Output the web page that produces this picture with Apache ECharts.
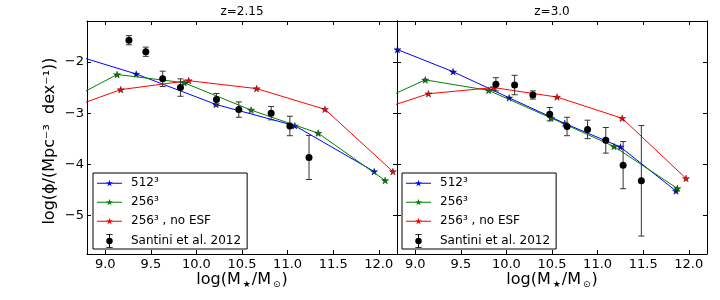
<!DOCTYPE html>
<html><head><meta charset="utf-8">
<script src="https://cdn.jsdelivr.net/npm/echarts@6/dist/echarts.min.js"></script>
<style>html,body{margin:0;padding:0;background:#fff}#c{width:720px;height:300px}</style>
</head><body><div id="c"></div>
<script>
// ---- data ----
const panelTitles = ['z=2.15', 'z=3.0'];
const seriesNames = ['512³', '256³', '256³ , no ESF', 'Santini et al. 2012'];
const xTicks = [9.0, 9.5, 10.0, 10.5, 11.0, 11.5, 12.0];
const yTicks = [-5, -4, -3, -2];

// z = 2.15
const a512x = [8.47, 9.34, 10.215, 11.08, 11.95];
const a512y = [-1.76, -2.235, -2.83, -3.245, -4.14];
const a256x = [8.40, 9.13, 9.865, 10.60, 11.335, 12.07];
const a256y = [-2.93, -2.245, -2.405, -2.94, -3.39, -4.315];
const aNoEsfx = [8.42, 9.17, 9.915, 10.66, 11.41, 12.155];
const aNoEsfy = [-3.02, -2.54, -2.365, -2.52, -2.925, -4.14];
const aSantX = [9.26, 9.445, 9.63, 9.825, 10.22, 10.465, 10.82, 11.025, 11.235];
const aSantY = [-1.575, -1.80, -2.33, -2.50, -2.735, -2.93, -3.00, -3.25, -3.865];
const aSantE = [0.09, 0.09, 0.15, 0.17, 0.12, 0.15, 0.13, 0.19, 0.43];

// z = 3.0
const b512x = [8.805, 9.415, 10.03, 10.64, 11.25, 11.86];
const b512y = [-1.758, -2.19, -2.70, -3.20, -3.66, -4.52];
const b256x = [8.42, 9.11, 9.805, 10.49, 11.18, 11.875];
const b256y = [-2.91, -2.35, -2.555, -3.095, -3.65, -4.47];
const bNoEsfx = [8.43, 9.145, 9.86, 10.555, 11.27, 11.97];
const bNoEsfy = [-3.04, -2.62, -2.50, -2.685, -3.10, -4.275];
const bSantX = [9.885, 10.09, 10.29, 10.475, 10.665, 10.89, 11.09, 11.28, 11.48];
const bSantY = [-2.437, -2.45, -2.645, -3.02, -3.26, -3.317, -3.53, -4.015, -4.32];
const bSantE = [0.13, 0.19, 0.08, 0.13, 0.18, 0.18, 0.25, 0.46, 1.08];

// ---- chart ----
const FONT = 'DejaVu Sans';
const colors = ['#0000ff', '#008000', '#ff0000'];
const STAR = 'path://M50,0 L61.23,34.55 L97.55,34.55 L68.16,55.9 L79.39,90.45 L50,69.1 L20.61,90.45 L31.84,55.9 L2.45,34.55 L38.77,34.55 Z';
const starIcon = 'path://M0,6.5 L25,6.5 L25,7.5 L0,7.5 Z M12.5,3.5 L13.29,5.92 L15.83,5.92 L13.77,7.41 L14.56,9.83 L12.5,8.34 L10.44,9.83 L11.23,7.41 L9.17,5.92 L11.71,5.92 Z';
const errIcon = 'path://M0,0 L6,0 L6,0.8 L3.5,0.8 L3.5,12.2 L6,12.2 L6,13 L0,13 L0,12.2 L2.5,12.2 L2.5,0.8 L0,0.8 Z M0,6.5 A3,3 0 1,1 6,6.5 A3,3 0 1,1 0,6.5 Z';

const panels = [
  {lines: [[a512x, a512y], [a256x, a256y], [aNoEsfx, aNoEsfy]], sant: [aSantX, aSantY, aSantE]},
  {lines: [[b512x, b512y], [b256x, b256y], [bNoEsfx, bNoEsfy]], sant: [bSantX, bSantY, bSantE]}
];
const zip = (xs, ys) => xs.map((x, i) => [x, ys[i]]);

const gridLeft = [87, 397], gridW = 310, gridTop = 21, gridH = 233;
const XMIN = 8.8, XMAX = 12.2, YMIN = -5.75, YMAX = -1.2;

function axisBase(ticks, showLabel, fmt) {
  return {
    type: 'value',
    axisLine: {show: true, onZero: false, lineStyle: {color: '#000', width: 1}},
    axisTick: {show: true, inside: true, length: 4, customValues: ticks, lineStyle: {color: '#000', width: 1}},
    axisLabel: {show: showLabel, customValues: ticks, formatter: fmt, color: '#000', fontSize: 13, fontFamily: FONT},
    splitLine: {show: false}
  };
}
const xfmt = v => v.toFixed(1);
const yfmt = v => String(v).replace('-', '\u2212');

const grid = [], xAxis = [], yAxis = [], series = [], legend = [], graphic = [];
panels.forEach((p, i) => {
  grid.push({left: gridLeft[i], top: gridTop, width: gridW, height: gridH, containLabel: false});
  xAxis.push(Object.assign(axisBase(xTicks, true, xfmt), {gridIndex: i, position: 'bottom', min: XMIN, max: XMAX}));
  xAxis[xAxis.length - 1].axisLabel.margin = 4;
  xAxis.push(Object.assign(axisBase(xTicks, false, xfmt), {gridIndex: i, position: 'top', min: XMIN, max: XMAX}));
  yAxis.push(Object.assign(axisBase(yTicks, i === 0, yfmt), {gridIndex: i, position: 'left', min: YMIN, max: YMAX}));
  yAxis[yAxis.length - 1].axisLabel.margin = 3;
  yAxis.push(Object.assign(axisBase(yTicks, false, yfmt), {gridIndex: i, position: 'right', min: YMIN, max: YMAX}));
  const xi = i * 2, yi = i * 2;
  p.lines.forEach((ln, k) => {
    series.push({
      type: 'line', name: seriesNames[k], xAxisIndex: xi, yAxisIndex: yi,
      data: zip(ln[0], ln[1]), clip: true, animation: false,
      symbol: STAR, symbolSize: 7, symbolKeepAspect: true, showAllSymbol: true,
      lineStyle: {color: colors[k], width: 1},
      itemStyle: {color: colors[k], borderColor: '#000', borderWidth: 0.4},
      z: 2 + k
    });
  });
  const [sx, sy, se] = p.sant;
  series.push({
    type: 'custom', name: 'Santini error bars', xAxisIndex: xi, yAxisIndex: yi, animation: false,
    data: sx.map((x, j) => [x, sy[j], se[j]]), z: 6,
    renderItem: (params, api) => {
      const x = api.value(0), y = api.value(1), e = api.value(2);
      const t = api.coord([x, y + e]), b = api.coord([x, y - e]);
      const st = {stroke: '#333', lineWidth: 1};
      return {type: 'group', children: [
        {type: 'line', shape: {x1: t[0], y1: t[1], x2: b[0], y2: b[1]}, style: st},
        {type: 'line', shape: {x1: t[0] - 3, y1: t[1], x2: t[0] + 3, y2: t[1]}, style: st},
        {type: 'line', shape: {x1: b[0] - 3, y1: b[1], x2: b[0] + 3, y2: b[1]}, style: st}
      ]};
    }
  });
  series.push({
    type: 'scatter', name: seriesNames[3], xAxisIndex: xi, yAxisIndex: yi, animation: false,
    data: zip(sx, sy), symbol: 'circle', symbolSize: 7, itemStyle: {color: '#000', opacity: 1}, z: 7
  });
  legend.push({
    left: i === 0 ? 93 : 402, top: 173, orient: 'vertical',
    backgroundColor: '#fff', borderColor: '#000', borderWidth: 1, borderRadius: 0,
    padding: [4, 6, 1, 4], itemGap: 7, itemWidth: 25, itemHeight: 14,
    selectedMode: false,
    textStyle: {fontSize: 12, color: '#000', fontFamily: FONT, padding: [0, 0, 0, 4]},
    data: [
      {name: seriesNames[0], icon: starIcon, itemStyle: {borderWidth: 0}},
      {name: seriesNames[1], icon: starIcon, itemStyle: {borderWidth: 0}},
      {name: seriesNames[2], icon: starIcon, itemStyle: {borderWidth: 0}},
      {name: seriesNames[3], icon: errIcon, itemStyle: {borderWidth: 0, opacity: 1}}
    ]
  });
  const cx = gridLeft[i] + gridW / 2;
  graphic.push({type: 'text', x: cx, y: 12, style: {text: panelTitles[i], fill: '#000', font: '12px "DejaVu Sans"', align: 'center', verticalAlign: 'middle'}});
  graphic.push({type: 'text', x: cx, y: 280, style: {
    text: 'log(M{s|★}/M{s|⊙})', fill: '#000', font: '16px "DejaVu Sans"', align: 'center', verticalAlign: 'middle',
    rich: {s: {fontSize: 9, fontFamily: FONT, fill: '#000', padding: [9, 1, 0, 2]}}
  }});
});
graphic.push({type: 'text', x: 50, y: 141, rotation: Math.PI / 2, style: {
  text: 'log(ϕ/(Mpc⁻³  dex⁻¹))', fill: '#000', font: '16px "DejaVu Sans"', align: 'center', verticalAlign: 'middle'
}});

const chart = echarts.init(document.getElementById('c'), null, {renderer: 'canvas'});
chart.setOption({
  backgroundColor: '#fff', animation: false,
  grid, xAxis, yAxis, series, legend, graphic
});
</script></body></html>
